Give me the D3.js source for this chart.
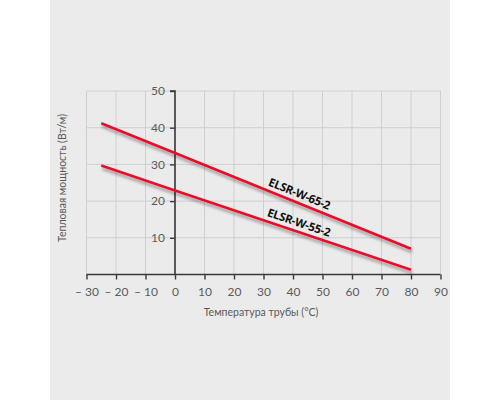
<!DOCTYPE html>
<html><head><meta charset="utf-8">
<script src="https://cdn.jsdelivr.net/npm/d3@7"></script>
<style>html,body{margin:0;padding:0;background:#fff;}svg{display:block;}</style>
</head><body>
<svg id="c" width="500" height="400"></svg>
<script>
const xTicks = [-30,-20,-10,0,10,20,30,40,50,60,70,80,90];
const xTickLabels = ["– 30","– 20","– 10","0","10","20","30","40","50","60","70","80","90"];
const yTicks = [10,20,30,40,50];
const temps = [-25, 0, 80];
const seriesNames = ["ELSR-W-65-2","ELSR-W-55-2"];
const power65 = [41.2, 33.1, 7.0];
const power55 = [29.7, 22.9, 1.3];
const labelAt = [41, 41];
const xTitle = "Температура трубы (°C)";
const yTitle = "Тепловая мощность (Вт/м)";

const svg = d3.select("#c");
svg.append("rect").attr("x",50).attr("y",0).attr("width",400).attr("height",400).attr("fill","#ebebeb");

const defs = svg.append("defs");
const f = defs.append("filter").attr("id","sh").attr("x","-10%").attr("y","-50%").attr("width","120%").attr("height","300%");
f.append("feDropShadow").attr("dx",1).attr("dy",3).attr("stdDeviation",1.6).attr("flood-color","#000").attr("flood-opacity",0.35);

const x = d3.scaleLinear().domain([-30,90]).range([86.5,440.5]);
const y = d3.scaleLinear().domain([0,50]).range([274.5,91]);

const font = "Lato, 'Open Sans', sans-serif";
const fontB = "'Open Sans', Lato, sans-serif";

// grid
const g = svg.append("g");
g.selectAll("line.v").data(xTicks).join("line")
  .attr("x1",d=>x(d)).attr("x2",d=>x(d)).attr("y1",y(0)).attr("y2",y(50))
  .attr("stroke","#cfcfcf").attr("stroke-width",1);
g.selectAll("line.h").data(yTicks).join("line")
  .attr("x1",x(-30)).attr("x2",x(90)).attr("y1",d=>y(d)).attr("y2",d=>y(d))
  .attr("stroke","#cfcfcf").attr("stroke-width",1);

// x axis
const xa = svg.append("g").attr("transform",`translate(0,${y(0)})`)
  .call(d3.axisBottom(x).tickValues(xTicks).tickSize(5).tickPadding(8).tickFormat((d,i)=>xTickLabels[i]));
xa.select(".domain").attr("stroke","#3a3a3a").attr("stroke-width",1.6).attr("d",`M${x(-30)},0H${x(90)}`);
xa.selectAll(".tick line").attr("stroke","#3a3a3a").attr("stroke-width",1.4);
xa.selectAll(".tick text").attr("fill","#5a5a5a").style("font-family",font).style("font-size","12px");

// y axis
const ya = svg.append("g").attr("transform",`translate(${x(0)},0)`)
  .call(d3.axisLeft(y).tickValues(yTicks).tickSize(5).tickPadding(5));
ya.select(".domain").attr("stroke","#3a3a3a").attr("stroke-width",1.6).attr("d",`M0,${y(0)}V${y(50)}H-5`);
ya.selectAll(".tick line").attr("stroke","#3a3a3a").attr("stroke-width",1.4);
ya.selectAll(".tick text").attr("fill","#5a5a5a").style("font-family",font).style("font-size","12px");

// titles
svg.append("text").attr("x",261).attr("y",316).attr("text-anchor","middle")
  .attr("fill","#5a5a5a").style("font-family",font).style("font-size","10.5px").text(xTitle);
svg.append("text").attr("transform",`translate(66,178) rotate(-90)`).attr("text-anchor","middle")
  .attr("fill","#5a5a5a").style("font-family",font).style("font-size","10.5px").text(yTitle);

// lines
const series = [power65, power55];
const line = d3.line().x((d,i)=>x(temps[i])).y(d=>y(d));
svg.selectAll("path.s").data(series).join("path")
  .attr("d",d=>line(d)).attr("fill","none").attr("stroke","#e8102a").attr("stroke-width",2.6)
  .attr("filter","url(#sh)");

// labels
series.forEach((s,k)=>{
  const lx = labelAt[k];
  const slope = (s[2]-s[1])/(temps[2]-temps[1]);
  const ly = s[1] + slope*(lx - temps[1]);
  const ang = Math.atan2(y(s[2])-y(s[1]), x(temps[2])-x(temps[1]))*180/Math.PI;
  svg.append("text").attr("transform",`translate(${x(lx)},${y(ly)}) rotate(${ang}) translate(0,-5)`)
    .attr("text-anchor","middle").attr("fill","#111")
    .style("font-family",fontB).style("font-size","11.5px").style("font-weight","bold")
    .style("letter-spacing","-0.3px").text(seriesNames[k]);
});
</script>
</body></html>
